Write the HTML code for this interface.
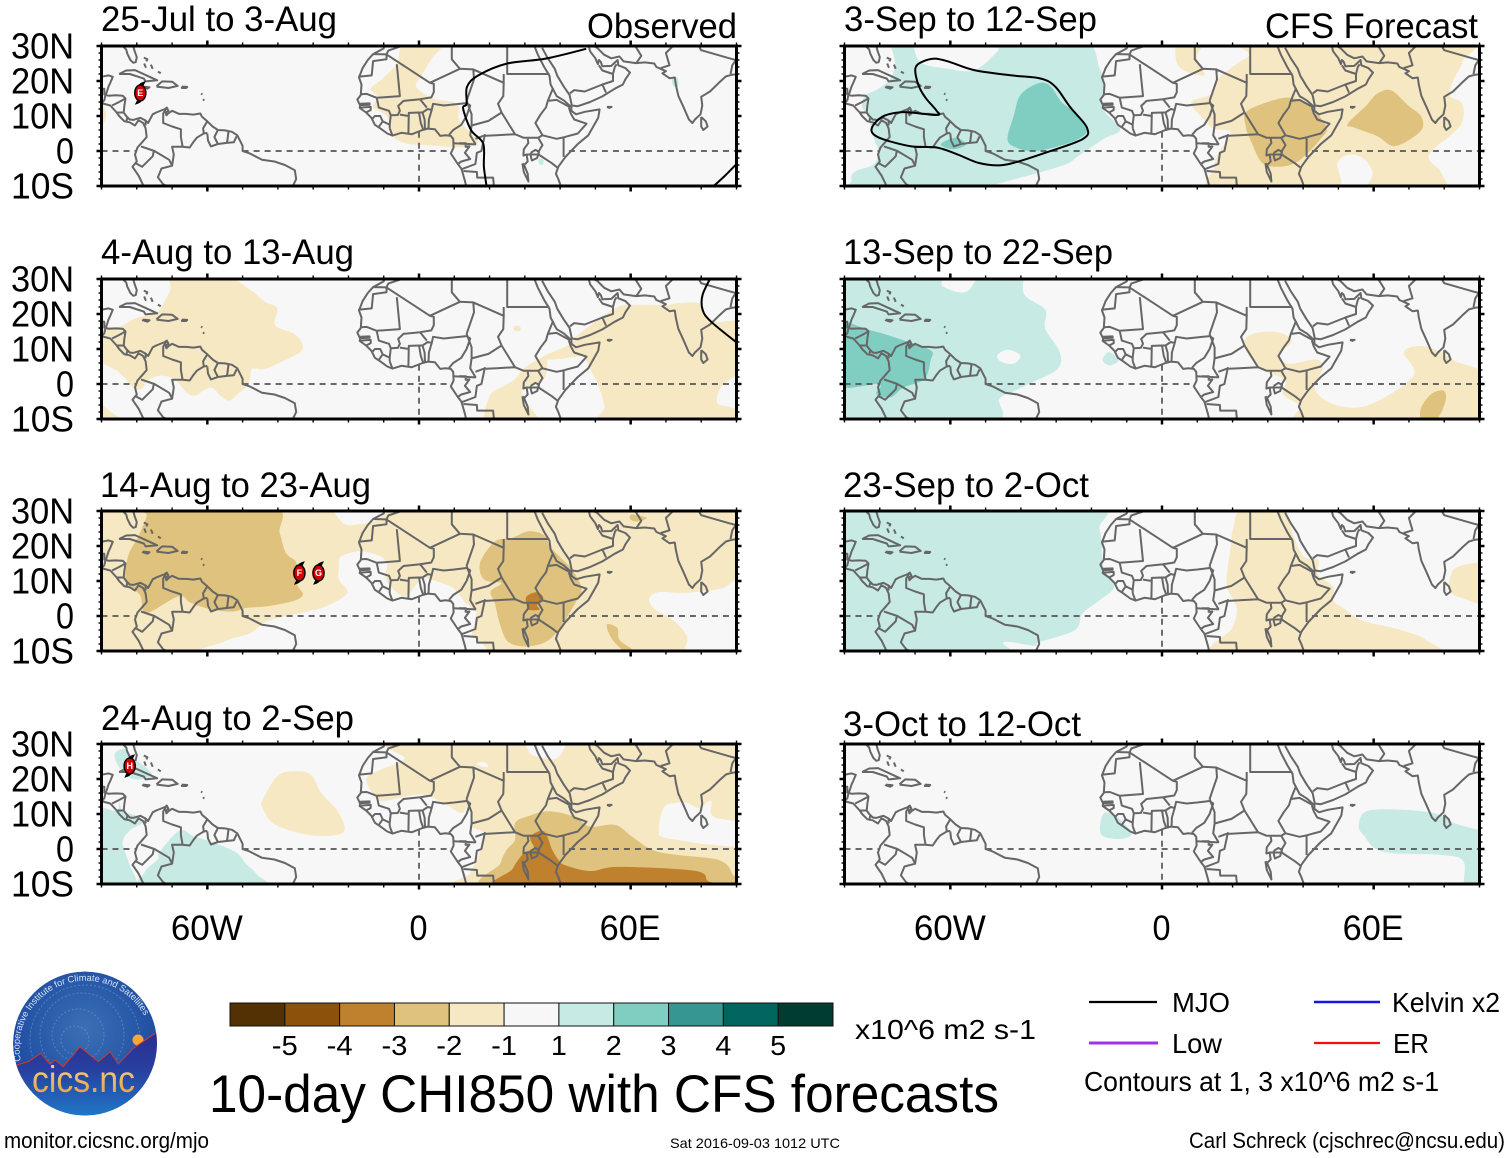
<!DOCTYPE html>
<html lang="en">
<head>
<meta charset="utf-8">
<title>10-day CHI850 with CFS forecasts</title>
<style>
html,body{margin:0;padding:0;background:#fff;}
svg{display:block;}
text{font-family:"Liberation Sans",Arial,sans-serif;fill:#000;}
.t33{font-size:35px;}
.t26{font-size:28px;}
.t20{font-size:22px;}
</style>
</head>
<body>
<svg id="chart" xmlns="http://www.w3.org/2000/svg" width="1510" height="1158" viewBox="0 0 1510 1158">
<defs>
<radialGradient id="sky" cx="50%" cy="40%" r="60%"><stop offset="0" stop-color="#3a70b5"/><stop offset="1" stop-color="#1b479e"/></radialGradient>
<linearGradient id="ground" x1="0" y1="0" x2="0" y2="1"><stop offset="0" stop-color="#2a2c90"/><stop offset="0.45" stop-color="#28409f"/><stop offset="1" stop-color="#1f7ccb"/></linearGradient>
<linearGradient id="gold" x1="0" y1="0" x2="0" y2="1"><stop offset="0" stop-color="#f8d890"/><stop offset="1" stop-color="#e09a3c"/></linearGradient>
<clipPath id="logo-clip"><circle cx="85" cy="1043.5" r="72"/></clipPath>
</defs>

<text class="t33" x="101" y="31" textLength="236" lengthAdjust="spacingAndGlyphs">25-Jul to 3-Aug</text>
<text class="t33" x="587" y="38" textLength="150" lengthAdjust="spacingAndGlyphs">Observed</text>
<text class="t33" x="101" y="264" textLength="253" lengthAdjust="spacingAndGlyphs">4-Aug to 13-Aug</text>
<text class="t33" x="100" y="497" textLength="271" lengthAdjust="spacingAndGlyphs">14-Aug to 23-Aug</text>
<text class="t33" x="101" y="730" textLength="253" lengthAdjust="spacingAndGlyphs">24-Aug to 2-Sep</text>
<text class="t33" x="844" y="31" textLength="253" lengthAdjust="spacingAndGlyphs">3-Sep to 12-Sep</text>
<text class="t33" x="1265" y="38" textLength="213" lengthAdjust="spacingAndGlyphs">CFS Forecast</text>
<text class="t33" x="843" y="264" textLength="270" lengthAdjust="spacingAndGlyphs">13-Sep to 22-Sep</text>
<text class="t33" x="843" y="497" textLength="246" lengthAdjust="spacingAndGlyphs">23-Sep to 2-Oct</text>
<text class="t33" x="843" y="736" textLength="238" lengthAdjust="spacingAndGlyphs">3-Oct to 12-Oct</text>

<g id="panels"></g>
<g id="colorbar"></g>

<text class="t26" x="855" y="1039" textLength="181" lengthAdjust="spacingAndGlyphs">x10^6 m2 s-1</text>
<text x="209" y="1112" font-size="53" textLength="790" lengthAdjust="spacingAndGlyphs">10-day CHI850 with CFS forecasts</text>

<g>
<line x1="1089" y1="1002" x2="1157" y2="1002" stroke="#000" stroke-width="2.2"/>
<text class="t26" x="1172" y="1012" textLength="58" lengthAdjust="spacingAndGlyphs">MJO</text>
<line x1="1314" y1="1002" x2="1380" y2="1002" stroke="#1414e6" stroke-width="2.4"/>
<text class="t26" x="1392" y="1012" textLength="108" lengthAdjust="spacingAndGlyphs">Kelvin x2</text>
<line x1="1089" y1="1043" x2="1158" y2="1043" stroke="#a030f0" stroke-width="3"/>
<text class="t26" x="1172" y="1053" textLength="50" lengthAdjust="spacingAndGlyphs">Low</text>
<line x1="1314" y1="1043" x2="1380" y2="1043" stroke="#f01010" stroke-width="2.2"/>
<text class="t26" x="1393" y="1053" textLength="36" lengthAdjust="spacingAndGlyphs">ER</text>
<text class="t26" x="1084" y="1091" textLength="355" lengthAdjust="spacingAndGlyphs">Contours at 1, 3 x10^6 m2 s-1</text>
</g>

<text class="t20" x="4" y="1148" textLength="205" lengthAdjust="spacingAndGlyphs">monitor.cicsnc.org/mjo</text>
<text x="670" y="1148" font-size="14" textLength="170" lengthAdjust="spacingAndGlyphs">Sat 2016-09-03 1012 UTC</text>
<text class="t20" x="1189" y="1148" textLength="316" lengthAdjust="spacingAndGlyphs">Carl Schreck (cjschrec@ncsu.edu)</text>

<g clip-path="url(#logo-clip)">
<circle cx="85" cy="1043.5" r="72" fill="url(#sky)"/>
<g fill="none" stroke="#6f9bd0" stroke-dasharray="2 2" opacity="0.6">
<circle cx="75" cy="1040" r="14"/>
<circle cx="78" cy="1035" r="26"/>
<circle cx="82" cy="1035" r="42"/>
<circle cx="85" cy="1040" r="55"/>
</g>
<circle cx="138" cy="1040" r="5.5" fill="#f2a93b"/>
<polygon points="10,1070 16.7,1065 28.3,1061.7 40.7,1053.3 50,1064.3 55,1060 63.3,1066.7 80,1046.7 98.3,1061.7 110,1051.7 118.3,1064 133.3,1048.3 155,1033.3 165,1030 165,1120 10,1120" fill="url(#ground)" stroke="#d43a2a" stroke-width="1"/>
<path id="logo-arc" d="M 21 1061 A 66 66 0 1 1 150.5 1033" fill="none"/>
<text font-size="9.2" style="fill:#d5e4f6"><textPath href="#logo-arc">Cooperative Institute for Climate and Satellites</textPath></text>
<text x="32" y="1092" font-size="37" style="fill:url(#gold)" textLength="103" lengthAdjust="spacingAndGlyphs">cics.nc</text>
</g>
</svg>

<script>
// ---- chart data (all positions are longitude / latitude in degrees) ----
const colorLevels = [-6, -5, -4, -3, -2, -1, 1, 2, 3, 4, 5];
const colorValues = ['#543005', '#8c510a', '#bf812d', '#dfc27d', '#f6e8c3', '#f7f7f7', '#c7eae5', '#80cdc1', '#35978f', '#01665e', '#003c30'];
const colorTickLabels = ['-5', '-4', '-3', '-2', '-1', '1', '2', '3', '4', '5'];
const latTicks = [30, 20, 10, 0, -10];
const latTickLabels = ['30N', '20N', '10N', '0', '10S'];
const lonTicks = [-60, 0, 60];
const lonTickLabels = ['60W', '0', '60E'];

// Contours: [colour level index, closed outline as lon,lat pairs]; index 5 = neutral (holes).
const contoursJul25 = [
  [4, [-4,31, 6.5,31, 3.3,25.9, .5,21.1, -.8,18.3, 3.9,15, 10.7,13.5, 11.4,8.8, 14.8,5, 16.8,2.6, 12.8,1.1, 3.3,1.6, -3.5,2.1, -7.6,4.5, -9,9.7, -13,12.6, -11.7,15.4, -13.7,17.8, -10.3,20.7, -6.3,25]],
  [4, [-92,13.5, -89.5,13, -88.7,10.5, -89.5,8, -92,8]],
  [6, [71.8,21, 73.2,21, 73.5,18.5, 72,18.7]],
  [6, [34,-2.2, 35.3,-2.6, 35,-4, 34,-3.6]]
];
const contoursAug4 = [
  [4, [-70,32, -57,32, -48.5,27.4, -43.8,23.6, -40.2,21.6, -40.8,16.8, -35.5,14.4, -33.1,11.5, -33.7,9.1, -39,6.3, -43.8,4.3, -47.3,4.3, -47.9,1.4, -49.1,-1, -51.4,-2.9, -53.8,-4.8, -56.2,-3.4, -59.1,-1, -63.9,-3.4, -66.8,-1.4, -69.2,1.4, -73.3,2.4, -76.9,1, -78.6,-1.4, -81,-1, -85.1,3.4, -92,8, -92,16, -85.1,16.3, -80.4,18.8, -74.5,20.2, -72.1,23.6, -70.4,27.4]],
  [4, [-92,-5, -85,-9.5, -78,-11.5, -92,-11.5]],
  [4, [44.9,13.9, 55.6,21.6, 61.5,22.6, 70.4,22.6, 73.3,23.1, 79.2,23.1, 80.4,20.7, 84,17.8, 92.2,15.4, 92.2,-11.5, 53.8,-11.5, 52.6,-6.3, 50.9,-.5, 48.5,4.3, 46.7,7.7, 43.8,7.7, 37.8,7, 34.9,7.7, 41.4,10.6, 43.8,12.5]],
  [4, [33.1,6.7, 36.1,7.7, 36.1,3.4, 34.9,1, 29.6,-1.4, 30.2,-4.8, 33.7,-9.6, 33.7,-11.5, 19.5,-11.5, 20.1,-3.4, 24.2,-.5, 27.2,1.4, 29.6,4.3]],
  [4, [27,16.5, 28.6,16.5, 28.6,15.2, 27,15.2]],
  [5, [92,2.4, 86,-.4, 84.5,-5.3, 88,-6.5, 92,-7]]
];
const contoursAug14 = [
  [4, [-100,40, 100,40, 100,-20, -100,-20]],
  [5, [-23.3,32, -21.5,26.5, -16.7,26.2, -12,27.6, -7.2,32]],
  [5, [-22.1,17, -16.7,18.5, -10.8,17, -9,14.2, -9.6,11.3, -7.2,7.5, -3.6,5.6, -1.2,8.5, 1.2,10.9, 3.6,10.4, 9.6,8, 13.2,3.7, 16.1,.9, 15,-4.9, 13.2,-11.5, -59.2,-11.5, -55,-7.2, -47.8,-4.9, -43,-1.5, -33.5,.9, -26.3,2.8, -20.3,6.6, -22.7,10.4, -22.7,14.2]],
  [5, [65.2,4.7, 67.7,6.8, 74.2,6.6, 80.1,7, 86.1,8, 93.3,10.4, 93.3,-11.5, 76.6,-11.5, 76,-5.8, 71.8,-1, 67,1.8]],
  [3, [-76.6,31.5, -41.9,31.5, -39.5,23.7, -37.7,18, -34.7,15.1, -34.7,9.4, -32.9,6.1, -35.9,4.2, -43,2.8, -49,2.3, -52.6,1.3, -58.6,1.8, -64.6,3.7, -68.2,5.6, -77.2,.9, -78.9,5.6, -80.7,7.5, -83.1,9.4, -82.5,17, -79.5,22.8, -77.2,28.5]],
  [3, [26.3,22.3, 31.1,24.2, 35.3,23.2, 37.1,19.9, 38.9,18, 43.7,12.8, 46.1,7.5, 44.3,3.7, 41.3,-1.5, 38.9,-4.9, 35.3,-7.7, 29.9,-8.7, 25.1,-7.2, 22.7,-1.5, 21.5,3.7, 20.3,7, 23.3,9.4, 18.5,10.4, 17.3,15.1, 21.5,21.3]],
  [3, [53.2,-2.5, 56.2,-3.4, 56.8,-6.8, 60.4,-9.6, 60,-11.5, 55,-7]],
  [3, [60.4,29, 64.6,28, 61.6,27, 59.8,27.8]],
  [2, [30.5,5.6, 33.5,6.8, 35.3,5.1, 33.5,3.2, 34.1,1.8, 31.1,1.8, 30.5,3.2]]
];
const contoursAug24 = [
  [6, [-86.3,27.1, -83.5,28.6, -81.2,26.2, -76.4,22.4, -76.4,20.5, -81.2,20, -84.9,23.3]],
  [6, [-92,10, -85.8,10.9, -84.9,13.3, -84,10.9, -80.2,9.5, -78.3,7.6, -82,5.3, -84,1.9, -82.5,-3.3, -80.2,-11.5, -92,-11.5]],
  [6, [-77.3,-11.5, -77.8,-6.7, -74,-2.9, -73.6,-1, -67.9,5.3, -64.1,3.8, -58.5,1.9, -51.8,-1, -49,-4.3, -46.1,-7.1, -44.3,-11.5]],
  [4, [-44.3,14, -40.2,20.8, -35.5,22.2, -30.7,21.3, -27.7,16, -23,10.7, -21.3,4.9, -28.4,3.7, -35.5,5, -41.4,7.4, -44.3,11.6]],
  [4, [-3,32, -4.1,25.7, -10.6,22.8, -14.8,20.4, -13.6,16.5, -10.6,13.7, 0,15.6, 5.9,13.7, 11.8,10.3, 13.6,11.7, 15.4,9.3, 14.8,6.4, 18.3,4.5, 17.1,-1.3, 16,-4.1, 14.5,-7, 15,-11.5, 92.5,-11.5, 92.5,32]],
  [5, [30.7,32, 31.3,27.6, 34.3,26.2, 38.4,25.7, 40.8,28, 41.4,32]],
  [5, [68,5.5, 68.6,9.8, 70.4,12.7, 75.7,13.2, 79.2,11.7, 82.8,13.7, 83.4,9.3, 92.5,7, 92.5,1.2, 82.8,1.2, 73.3,2.6, 68.6,3.6]],
  [5, [16.3,24.5, 18.3,24.9, 19.7,23.6, 17.7,23.6]],
  [3, [27.2,7.4, 30.7,9.3, 36.7,10.8, 43.8,9.3, 48.5,6.4, 55.6,6.9, 60.3,3.6, 66.2,-.3, 73.3,-1.7, 85.1,-3.2, 88.7,-7, 88,-11.5, 21.3,-11.5, 23.1,-4.1, 24.8,-.3, 27.2,2.6]],
  [2, [31.9,4, 35.5,5, 37.8,-.3, 39.6,-3.2, 41.4,-4.6, 48.5,-6.3, 56.8,-5.1, 78,-6.2, 81.6,-8.9, 81.6,-11.5, 24.2,-11.5, 26.6,-5.6, 29.6,-1.3, 32.5,.2, 31.6,2.6]]
];
const contoursSep3 = [
  [6, [-76.9,32, -71.5,32, -68.6,25.5, -61.5,23.6, -53.2,23.1, -46.7,28.4, -44.3,32, -22.5,32, -17.7,23.6, -16.6,19.7, -16.6,12, -11.8,6.3, -16.6,3.4, -23.7,-1.4, -27.2,-3.8, -36.7,-6.7, -47.3,-9.6, -52,-11.5, -85.1,-11.5, -88,-8.2, -86.9,-5.8, -81.6,-3.8, -80.4,0, -81.6,3.4, -83.4,9.6, -85.1,13, -84,15.9, -80.4,17.8, -76.9,20.7, -75.7,25.5]],
  [7, [-35.5,19.2, -31.9,18.8, -28.4,13.9, -24.8,11.1, -21.3,6.3, -23.7,3.4, -30.7,1, -36.7,0, -41.4,1, -43.8,3.4, -42,10.1, -40.2,15.9]],
  [7, [-62.7,1.9, -58.6,3.8, -55.6,1.9, -59.1,.5]],
  [4, [4.7,32, 12,32, 10,27.4, 10.6,25, 12,21.6, 7.1,22.6, 4.1,25.5]],
  [4, [26,32, 84.6,32, 85.1,25.5, 82.8,20.7, 81.6,15.9, 85.1,13.5, 85.1,8.2, 81.6,4.3, 76.9,.5, 75.7,-2.4, 79.2,-6.3, 79.2,-11.5, 59.7,-11.5, 59.7,-6.3, 57.4,-2.4, 53.2,-1, 49.7,-3.4, 47.9,-11.5, 14.8,-11.5, 14.8,-4.8, 16,-.5, 19.5,5.3, 14.8,6.3, 11.8,9.1, 8.3,13.9, 14.2,16.3, 16,20.7, 21.3,25, 24.8,27.4]],
  [3, [24.2,11.5, 33.1,14.9, 37.8,14.9, 42.6,12, 46.7,6.7, 44.9,3.4, 41.4,-.5, 37.8,-3.4, 33.1,-4.5, 28.4,-3.4, 25.4,2.4, 23.7,7.2]],
  [3, [52.6,7.7, 57.9,13, 60.9,16.3, 65,17.3, 69.8,13, 73.3,10.1, 73.9,6.7, 71,3.8, 65.6,1.4, 60.9,4.3, 54.4,6.7]]
];
const contoursSep13 = [
  [6, [-93,32, -65,32, -62.1,27.9, -55.6,26.3, -50.3,32, -40.2,32, -39,25.5, -33.1,21.2, -33.1,15.9, -29,9.1, -29.6,4.3, -36.7,.5, -42.6,-2.4, -46.1,-4.3, -49.1,-11.5, -93,-11.5]],
  [5, [-46.7,8.2, -43.8,9.8, -40.2,8.2, -42,5.8, -45.5,6.3]],
  [7, [-93,17, -82.8,15.4, -73.3,12.5, -65.6,9.6, -65.6,6.7, -67.4,1.4, -73.3,-1, -76.9,-3.8, -81,-2.9, -80.4,0, -93,0]],
  [6, [-16.6,7.7, -14.8,9.1, -12.4,6.7, -14.8,5.3, -16.6,6.3]],
  [4, [23.7,13, 28.4,14.9, 34.3,14.4, 36.7,12, 33.1,8.2, 36.1,5.8, 43.8,7, 45.5,4.3, 43.2,-1, 47.3,-5.3, 55.6,-6.7, 63.9,-3.4, 71.5,2.9, 68.6,9.1, 73.3,10.9, 79.2,9.1, 82.8,6.7, 92.5,1.9, 92.5,-11.5, 41.4,-11.5, 39,-6.3, 34.3,-2.9, 34.9,1, 28.4,4.3, 24.2,8.7]],
  [3, [73.3,-7.2, 76.3,-2.9, 79.8,-1.9, 80.4,-4.8, 78,-9.9, 74,-11.5]]
];
const contoursSep23 = [
  [6, [-93,32, -21.9,32, -17.7,24.7, -16.6,14.1, -13.6,8.4, -17.7,4.5, -22.5,.7, -24.8,-4.1, -34.9,-7.5, -36,-8.5, -44.9,-7.5, -46.1,-11.5, -93,-11.5]],
  [4, [23.1,32, 33.7,32, 37.3,22.8, 40.2,17, 44.3,16, 44.3,11.7, 48.5,8.4, 48.5,4.5, 50.9,2.6, 56.8,-1.3, 67.4,-3.9, 75.1,-7, 75.1,-11.5, 17.1,-11.5, 20.1,-3.2, 21.3,1.6, 20.1,5, 18.3,9.3, 19.5,19.9, 20.1,24.7]],
  [4, [81.6,10.8, 84,14.1, 93,14.4, 93,3.7, 84,5.5, 81.6,7.4]]
];
const contoursOct3 = [
  [6, [-17.6,5.9, -16.4,10.2, -12.8,9.2, -8.6,4.5, -11.6,2.9, -16.4,3.5]],
  [6, [55.8,6.9, 59.1,11.1, 75.9,10.5, 83.1,7.3, 90.3,5.4, 93,5.4, 93,-11.5, 86,-11.5, 85.5,-3.6, 79.5,-1.7, 62.7,-.8, 57.3,3.8]]
];

// MJO contour lines, lon,lat pairs.
const mjoJul25 = [
  [47.4,29.2, 35.9,26.4, 25,25, 16.8,21.6, 13.6,18.3, 13.5,13.5, 12.5,12.1, 14.8,5.9, 18.2,2.1, 18.4,-4.6, 19.3,-11],
  [83,-10.5, 86.8,-7, 90.5,-3.2]
];
const mjoAug4 = [[83,31, 80.4,25.5, 80.4,21.2, 82.8,17.8, 90.5,11.5]];
const mjoSep3Closed = [-68,25.5, -64.5,26.4, -60.3,25.5, -53.2,23.1, -42.6,21.6, -34.3,20.7, -30.2,18.3, -26,12.5, -21.3,6.7, -22.5,3.4, -33.1,-.5, -41.4,-3.2, -46.1,-4.1, -52,-3.4, -57.9,-1, -63.9,1, -71,1.3, -79.2,3.4, -82.2,5.3, -81.6,7.7, -78.6,10.1, -73.3,11.1, -63.9,10.3, -63.9,11.5, -66.8,14.9, -68.6,17.8, -69.8,21.6, -69.8,24];

// Tropical cyclones: letter, lon, lat.
const stormLetters = { jul25: ['E'], aug14: ['F', 'G'], aug24: ['H'] };
const stormLons = { jul25: [-79], aug14: [-33.9, -28.5], aug24: [-82] };
const stormLats = { jul25: [16.6], aug14: [12.3, 12.3], aug24: [23.7] };

// Coastlines and borders as lon,lat polylines.
const coastlines = [
  [-85,31, -84,30, -83,29, -82.7,27.8, -81.8,26, -81,25.2, -80.3,25.4, -80,26.8, -80.6,28.5, -81.3,31],
  [-90.5,21.1, -88,21.6, -86.8,21.2, -87.5,19.5, -88,18.5, -88.3,17.5, -88.8,16, -88,15.8, -86,15.9, -84,15.8, -83.2,15, -83.5,13, -83.7,11, -83,10, -82,9, -81,8.9, -80,9.2, -79,9.5, -77.5,8.7, -76.8,8, -75.5,10.5, -74.5,11, -72,12, -71.5,12.4, -71,11.5, -71.8,11, -71.6,10.2, -71,10.8, -70,11.5, -68,10.6, -66,10.6, -64,10.4, -62,10.7, -61.5,9.8, -60,8.5, -58.5,7, -57,6, -55,5.9, -53,5.5, -51.5,4.5, -50,1.5, -50,0, -48.5,-.5, -48,-.7, -44.5,-2.5, -41,-3, -38,-4, -35.2,-5.5, -34.8,-8, -36,-10.5],
  [-90.5,13.8, -87.5,13, -85.7,11, -85,10, -83.5,8.5, -82,8.2, -80.5,7.3, -79.5,8.8, -78.2,8, -77.5,6.5, -77.2,4, -78.5,2.5, -79.8,1, -80.5,-1, -80,-3, -81.2,-4.5, -79.5,-7, -78.3,-9.5, -78,-10.5],
  [-85,22, -83,23, -80.5,23.1, -77,21.5, -74.2,20.2, -77.5,19.9, -78,20.7, -82,22, -85,22],
  [-78.3,18.4, -76.4,18.2, -77,17.8, -78.3,18.2, -78.3,18.4],
  [-74.4,18.5, -72.8,19.9, -70,19.8, -68.4,18.6, -71,18, -74.4,18.4],
  [-67.2,18.4, -65.7,18.3, -66,18, -67.2,18, -67.2,18.4],
  [-78,26.7, -77,26.2, -77.3,25.6],
  [-77.9,25, -77.5,24, -77.7,23.9],
  [-76,24.7, -75.5,23.5],
  [-74,22.7, -73.2,22.2],
  [-61.8,16.4, -61.4,16.2],
  [-61.2,14.8, -60.9,14.4],
  [-9.7,30.5, -10,29.3, -13,27.7, -14.5,26, -16,23.7, -17,21, -16.3,19, -16.5,16, -17.5,14.7, -16.7,13, -16.8,12.3, -15,11, -13.5,9.5, -12.5,7.5, -11,6.5, -9,5, -7.5,4.4, -5,5.2, -2,4.8, 1,6, 2.5,6.4, 4.5,6.2, 6,4.3, 7.5,4.5, 9,4.3, 9.7,3.5, 9.8,1, 9,-.7, 11,-3.7, 12,-5, 12.3,-6, 13,-8.5, 13.5,-10.5],
  [32.5,30.5, 33.7,27.5, 35.5,24, 37,21.5, 37.3,19, 39,15.7, 41,14.5, 43.2,12.5, 43.2,11.5, 44.5,10.5, 47,11.2, 51.2,11.9, 50.8,9.5, 48,4.5, 45,2, 41.5,-1.7, 39.5,-4.5, 38.8,-6.5, 39.5,-8, 40.4,-10.5],
  [34.9,29.5, 36.5,26.5, 38.5,23.5, 39.2,21.5, 41,18.5, 42.7,16, 43.3,13, 45,12.8, 48.5,14, 52,15.6, 55.5,17.8, 57.8,19, 58.5,20.5, 59.8,22.4, 58.5,23.7, 56.5,24.5, 56.3,26, 54.5,24.3, 52,24.2, 51.5,25.5, 51,26, 50.7,24.8, 50,26.5, 48.5,28.5, 48,30.5],
  [48.5,30.5, 50.5,29.5, 52.5,27.5, 54.5,26.5, 56.8,27, 58,25.6, 61.5,25.1, 64,25.3, 66.7,25, 67.3,24, 68.5,23.5, 70,22.8, 69,22.2, 71,20.8, 72.5,21, 72.8,19, 73.5,15.8, 75,12.5, 76.5,9, 77.5,8, 78.2,9, 79.8,10.5, 80.3,13, 80,15.5, 82.5,17, 85,19.5, 87,21.3, 88.8,21.8, 90.5,22],
  [80,9.7, 81.3,8.5, 81.8,7, 80.6,6, 80,7, 80,9.7],
  [53.3,12.6, 54.6,12.6, 54,12.3, 53.3,12.6],
  [31.7,-.5, 33,.3, 34,-.2, 33.5,-2, 32,-2.7, 31.7,-1.5, 31.7,-.5],
  [29.3,-3.5, 29.7,-6, 31,-8.7, 30.8,-6.5, 29.8,-4, 29.3,-3.5]
];
const borders = [
  [-17.2,21.2, -13.4,21.6, -13,25.7, -9.2,26.2, -9.2,27.6, 3.1,19.5, 4.2,19.2, 4.2,16.8, 3.5,15.3, .3,14.8, -4.4,14.3, -5.9,12.9, -5.4,11.5, -6,10.3, -8,10.2, -8.3,7.6, -8.5,7.6, -10.3,8.5, -11.4,6.9],
  [-13,27.7, -9.2,27.6, -8.7,28.7, -3.5,30.5],
  [-6.3,24.8, -5.4,15.7, -12,15.2, -14.8,16.3, -16.4,16.2],
  [-12,15.2, -11.4,12.4, -8.5,11.5, -8,10.2],
  [-16.7,13.5, -14,13.6, -14,13.2, -16.7,13.1],
  [-16.7,12.4, -13.7,12.6, -13.7,11.7, -15,11],
  [-13.3,9.1, -12.5,10, -11,10, -10.3,8.5],
  [-8.3,6.5, -7.5,4.4],
  [-8.3,7.6, -8.3,6.5],
  [-3,5, -2.9,10.9, 0,11, .5,8, 1.2,6.1],
  [-5.4,10.4, -2.9,10],
  [0,11, 1,11, 1.6,9, 1.7,6.2],
  [1,11, 2.5,12, 3.6,11.7, 2.8,9, 2.7,6.4],
  [.3,14.8, 2.2,12.4],
  [3.6,11.7, 4,13.5, 7,13, 10,13.3, 13.5,13.7, 14.5,13, 13.5,10, 12,7.5, 9.7,6, 8.5,4.6],
  [9.3,30.5, 9.3,26.2, 11.6,23.5, 15.4,23.3, 15.6,20.5, 13.5,14.3],
  [3.1,19.5, 11.6,23.5],
  [15.4,23.3, 24,19.5, 23.9,15.7, 22.4,13.5, 23.4,11, 19.7,8.6, 14.9,7.3, 14.9,10.5, 13.5,14.3],
  [14.9,7.3, 14.5,4.5, 16,2, 15.9,1.9, 9.8,2.2],
  [16,3.5, 18.2,4.3, 22,4.5, 27.2,4.8, 29.6,3.8, 33.8,3.8, 35,4.5, 39,3.5, 41,3.9],
  [23.4,11, 27.2,4.8],
  [25,30.5, 25,22, 37,22],
  [24,19.5, 24,22],
  [38,18, 36.5,14.3, 36,12.5, 34.5,10.5, 33,8, 35,4.5],
  [36.5,14.3, 39,14.6, 42.8,12.5],
  [42.5,12.4, 43,10.8, 44,9, 47.5,7.8, 45,5, 42,4.2, 41,3.9],
  [33.8,3.8, 35,1.7, 34,0, 33.9,-1, 30.5,-1, 29.6,-1.3, 29.7,.5, 31,2.3, 30.8,3.5],
  [41,3.9, 41,-1.7],
  [33.9,-1, 37.7,-3.5, 39.2,-4.7],
  [30.5,-1, 30.8,-3, 29.4,-4.4],
  [18.7,4.8, 17.7,0, 16.4,-.5, 16,-3.7, 14.5,-4.3, 12.1,-5.2],
  [11.3,2.2, 13.3,2.2, 13.2,1.2, 14.3,1.3, 13,-.5, 14.5,-2.3, 12,-3, 11,-3.7],
  [12.6,-5.7, 16.4,-6, 16.5,-7.6, 21,-7.6, 21.3,-10.5],
  [42.8,16.5, 44,17.4, 47,17, 52,19, 55,20, 55,22, 52,23, 51,24.5],
  [52,19, 53,16.7],
  [56,24.8, 55.5,24, 55,22],
  [61,30.5, 63,27.2, 61.6,25.1],
  [68.5,23.7, 71,24.5, 70,28, 72.5,30.5],
  [79,30.5, 80,28.8, 88,26.5, 89.8,26, 88.8,24.5, 88.3,22],
  [-90.5,17.8, -89.2,17.8, -89.2,15.9],
  [-88.9,15.9, -89.2,14.5, -90,13.7],
  [-83.2,15, -85,14, -87,13],
  [-83.7,11, -85.7,11],
  [-82.7,9.5, -83,8.3],
  [-77.5,8.7, -77.5,7.3],
  [-71.5,12.4, -72.5,10.7, -72.5,8, -70,7, -67.5,6.2, -67.5,4, -67,1.2, -70,1.2, -69.5,-1, -70,-4.2, -70.8,-2.5, -75,0, -78.8,1.3],
  [-75.2,-.2, -75.5,-1.5, -78.5,-4.5, -80.3,-3.5],
  [-70,-4.2, -73,-5, -74,-7.5, -72.5,-9.5, -70.5,-10.5],
  [-60,8.5, -61.2,6.5, -61,5, -60,5.2],
  [-60.7,5.2, -63,3.8, -64,2.5, -65,1, -67,1.2],
  [-60,5, -59.8,3, -59,1.3, -57,2, -54.5,2.3, -52.5,2.5, -51.7,4.2],
  [-57,6, -58,4, -57,2],
  [-54,5.7, -54.3,3, -54.5,2.3]
];
// Ocean stretches of the reference lines, since the dashes stop at land.
const equatorOceanRuns = [[-90,-80], [-50,9.5], [42.5,90]];
const meridianOceanRun = [5.5,-10];

// ---- layout and axis functions ----
const NS = 'http://www.w3.org/2000/svg';
const panelW = 635;
const panelH = 140;
const lonScale = panelW / 180;
const latScale = panelH / 40;
const colors = colorValues;

function xOf(left, lon) { return left + (lon + 90) * lonScale; }
function yOf(top, lat) { return top + (30 - lat) * latScale; }
function mk(tag, parent) {
  const e = document.createElementNS(NS, tag);
  parent.appendChild(e);
  return e;
}
function polyD(flat, left, top) {
  let d = '';
  for (let i = 0; i < flat.length; i += 2) {
    d += (i ? 'L' : 'M') + xOf(left, flat[i]).toFixed(1) + ' ' + yOf(top, flat[i + 1]).toFixed(1);
  }
  return d;
}
function smoothD(flat, left, top, closed) {
  const p = [];
  for (let i = 0; i < flat.length; i += 2) p.push([xOf(left, flat[i]), yOf(top, flat[i + 1])]);
  const n = p.length;
  const at = i => closed ? p[(i + n) % n] : p[Math.max(0, Math.min(n - 1, i))];
  let d = 'M' + p[0][0].toFixed(1) + ' ' + p[0][1].toFixed(1);
  const segs = closed ? n : n - 1;
  for (let i = 0; i < segs; i++) {
    const a = at(i - 1), b = at(i), c = at(i + 1), e = at(i + 2);
    d += 'C' + (b[0] + (c[0] - a[0]) / 6).toFixed(1) + ' ' + (b[1] + (c[1] - a[1]) / 6).toFixed(1) + ' ' +
      (c[0] - (e[0] - b[0]) / 6).toFixed(1) + ' ' + (c[1] - (e[1] - b[1]) / 6).toFixed(1) + ' ' +
      c[0].toFixed(1) + ' ' + c[1].toFixed(1);
  }
  return d + (closed ? 'Z' : '');
}

const panelDefs = [
  { key: 'jul25', left: 101.5, top: 46, contours: contoursJul25, mjo: mjoJul25, closed: null, xlabels: false },
  { key: 'aug4', left: 101.5, top: 279, contours: contoursAug4, mjo: mjoAug4, closed: null, xlabels: false },
  { key: 'aug14', left: 101.5, top: 511, contours: contoursAug14, mjo: [], closed: null, xlabels: false },
  { key: 'aug24', left: 101.5, top: 744, contours: contoursAug24, mjo: [], closed: null, xlabels: true },
  { key: 'sep3', left: 844.5, top: 46, contours: contoursSep3, mjo: [], closed: mjoSep3Closed, xlabels: false },
  { key: 'sep13', left: 844.5, top: 279, contours: contoursSep13, mjo: [], closed: null, xlabels: false },
  { key: 'sep23', left: 844.5, top: 511, contours: contoursSep23, mjo: [], closed: null, xlabels: false },
  { key: 'oct3', left: 844.5, top: 744, contours: contoursOct3, mjo: [], closed: null, xlabels: true }
];

const panelsRoot = document.getElementById('panels');
const defsEl = document.querySelector('#chart defs');

panelDefs.forEach(function (pd) {
  const L = pd.left, T = pd.top;
  const clip = mk('clipPath', defsEl);
  clip.setAttribute('id', 'clip-' + pd.key);
  const cr = mk('rect', clip);
  cr.setAttribute('x', L); cr.setAttribute('y', T);
  cr.setAttribute('width', panelW); cr.setAttribute('height', panelH);

  const g = mk('g', panelsRoot);
  
  

  const inner = mk('g', g);
  inner.setAttribute('clip-path', 'url(#clip-' + pd.key + ')');
  
  

  const bg = mk('rect', inner);
  
  
  bg.setAttribute('x', L); bg.setAttribute('y', T);
  bg.setAttribute('width', panelW); bg.setAttribute('height', panelH);
  bg.setAttribute('fill', colors[5]);

  pd.contours.forEach(function (c) {
    const f = mk('path', inner);
    
    
    f.setAttribute('d', smoothD(c[1], L, T, true));
    f.setAttribute('fill', colors[c[0]]);
  });

  equatorOceanRuns.forEach(function (run) {
    const eq = mk('line', inner);
    
    
    eq.setAttribute('x1', xOf(L, run[0])); eq.setAttribute('x2', xOf(L, run[1]));
    eq.setAttribute('y1', yOf(T, 0)); eq.setAttribute('y2', yOf(T, 0));
    eq.setAttribute('stroke', '#555');
    eq.setAttribute('stroke-width', '1.7');
    eq.setAttribute('stroke-dasharray', '6 5');
  });
  const mer = mk('line', inner);
  
  
  mer.setAttribute('x1', xOf(L, 0)); mer.setAttribute('x2', xOf(L, 0));
  mer.setAttribute('y1', yOf(T, meridianOceanRun[0])); mer.setAttribute('y2', yOf(T, meridianOceanRun[1]));
  mer.setAttribute('stroke', '#555');
  mer.setAttribute('stroke-width', '1.7');
  mer.setAttribute('stroke-dasharray', '6 5');

  const coast = mk('path', inner);
  
  
  coast.setAttribute('d', coastlines.map(function (l) { return polyD(l, L, T); }).join(''));
  coast.setAttribute('fill', 'none');
  coast.setAttribute('stroke', '#666');
  coast.setAttribute('stroke-width', '2');
  coast.setAttribute('stroke-linejoin', 'round');

  const bord = mk('path', inner);
  
  
  bord.setAttribute('d', borders.map(function (l) { return polyD(l, L, T); }).join(''));
  bord.setAttribute('fill', 'none');
  bord.setAttribute('stroke', '#666');
  bord.setAttribute('stroke-width', '2');
  bord.setAttribute('stroke-linejoin', 'round');

  pd.mjo.forEach(function (line) {
    const m = mk('path', inner);
    
    
    m.setAttribute('d', smoothD(line, L, T, false));
    m.setAttribute('fill', 'none');
    m.setAttribute('stroke', '#000');
    m.setAttribute('stroke-width', '2');
  });
  if (pd.closed) {
    const mc = mk('path', inner);
    
    
    mc.setAttribute('d', smoothD(pd.closed, L, T, true));
    mc.setAttribute('fill', 'none');
    mc.setAttribute('stroke', '#000');
    mc.setAttribute('stroke-width', '2');
  }

  (stormLetters[pd.key] || []).forEach(function (letter, i) {
    const sx = xOf(L, stormLons[pd.key][i]);
    const sy = yOf(T, stormLats[pd.key][i]);
    const s = mk('g', inner);
    
    
    s.setAttribute('transform', 'translate(' + sx.toFixed(1) + ' ' + sy.toFixed(1) + ')');
    const tails = mk('path', s);
    
    
    tails.setAttribute('d', 'M4.5,-11 C1,-10 -1,-9 -2,-6 L2,-6 Z M-4.5,11 C-1,10 1,9 2,6 L-2,6 Z');
    tails.setAttribute('fill', '#000');
    tails.setAttribute('stroke', '#000');
    const body = mk('ellipse', s);
    
    
    body.setAttribute('rx', '5.6');
    body.setAttribute('ry', '8');
    body.setAttribute('fill', '#d40000');
    body.setAttribute('stroke', '#000');
    body.setAttribute('stroke-width', '1.4');
    const t = mk('text', s);
    
    
    t.setAttribute('y', '3.2');
    t.setAttribute('text-anchor', 'middle');
    t.setAttribute('font-size', '9');
    t.setAttribute('font-weight', 'bold');
    t.setAttribute('style', 'fill:#fff');
    t.textContent = letter;
  });

  // ticks
  const ticks = mk('g', g);
  
  
  ticks.setAttribute('stroke', '#000');
  for (let lon = -90; lon <= 90; lon += 10) {
    const major = lonTicks.indexOf(lon) >= 0;
    const len = major ? 4.5 : 2.5;
    [[T, -1], [T + panelH, 1]].forEach(function (side) {
      const tk = mk('line', ticks);
      
      
      tk.setAttribute('x1', xOf(L, lon)); tk.setAttribute('x2', xOf(L, lon));
      tk.setAttribute('y1', side[0]); tk.setAttribute('y2', side[0] + side[1] * (len + 1));
      tk.setAttribute('stroke-width', major ? '2.5' : '1.4');
    });
  }
  for (let lat = -10; lat <= 30; lat += 2) {
    const major = lat % 10 === 0;
    const len = major ? 4 : 2;
    [[L, -1], [L + panelW, 1]].forEach(function (side) {
      const tk = mk('line', ticks);
      
      
      tk.setAttribute('y1', yOf(T, lat)); tk.setAttribute('y2', yOf(T, lat));
      tk.setAttribute('x1', side[0]); tk.setAttribute('x2', side[0] + side[1] * (len + 1));
      tk.setAttribute('stroke-width', major ? '2.5' : '1.4');
    });
  }

  const frame = mk('rect', g);
  
  
  frame.setAttribute('x', L); frame.setAttribute('y', T);
  frame.setAttribute('width', panelW); frame.setAttribute('height', panelH);
  frame.setAttribute('fill', 'none');
  frame.setAttribute('stroke', '#000');
  frame.setAttribute('stroke-width', '3');

  // axis labels (left column only)
  if (L < 400) {
    latTicks.forEach(function (lat, i) {
      const lab = mk('text', g);
      
      
      lab.setAttribute('x', '74');
      lab.setAttribute('y', yOf(T, lat) + 12.5);
      lab.setAttribute('text-anchor', 'end');
      lab.setAttribute('font-size', '36');
      lab.setAttribute('textLength', latTickLabels[i].length > 1 ? '63' : '18');
      lab.setAttribute('lengthAdjust', 'spacingAndGlyphs');
      lab.textContent = latTickLabels[i];
    });
  }
  if (pd.xlabels) {
    lonTicks.forEach(function (lon, i) {
      const lab = mk('text', g);
      
      
      lab.setAttribute('x', xOf(L, lon) - 0.5);
      lab.setAttribute('y', '940');
      lab.setAttribute('text-anchor', 'middle');
      lab.setAttribute('font-size', '35');
      lab.setAttribute('textLength', lonTickLabels[i] === '0' ? '18' : (lonTickLabels[i] === '60W' ? '72' : '61'));
      lab.setAttribute('lengthAdjust', 'spacingAndGlyphs');
      lab.textContent = lonTickLabels[i];
    });
  }
});

// colour bar
const cbRoot = document.getElementById('colorbar');
const cbLeft = 230, cbTop = 1003, cbH = 23, cbStep = 603 / colorLevels.length;
colorLevels.forEach(function (lv, i) {
  const r = mk('rect', cbRoot);
  
  
  r.setAttribute('x', cbLeft + i * cbStep);
  r.setAttribute('y', cbTop);
  r.setAttribute('width', cbStep);
  r.setAttribute('height', cbH);
  r.setAttribute('fill', colorValues[i]);
  r.setAttribute('stroke', '#111');
  r.setAttribute('stroke-width', '1');
});
colorTickLabels.forEach(function (lab, i) {
  const t = mk('text', cbRoot);
  
  
  t.setAttribute('x', cbLeft + (i + 1) * cbStep);
  t.setAttribute('y', '1055');
  t.setAttribute('text-anchor', 'middle');
  t.setAttribute('font-size', '28');
  t.setAttribute('textLength', lab.length > 1 ? '26' : '16');
  t.setAttribute('lengthAdjust', 'spacingAndGlyphs');
  t.textContent = lab;
});
</script>
</body>
</html>
